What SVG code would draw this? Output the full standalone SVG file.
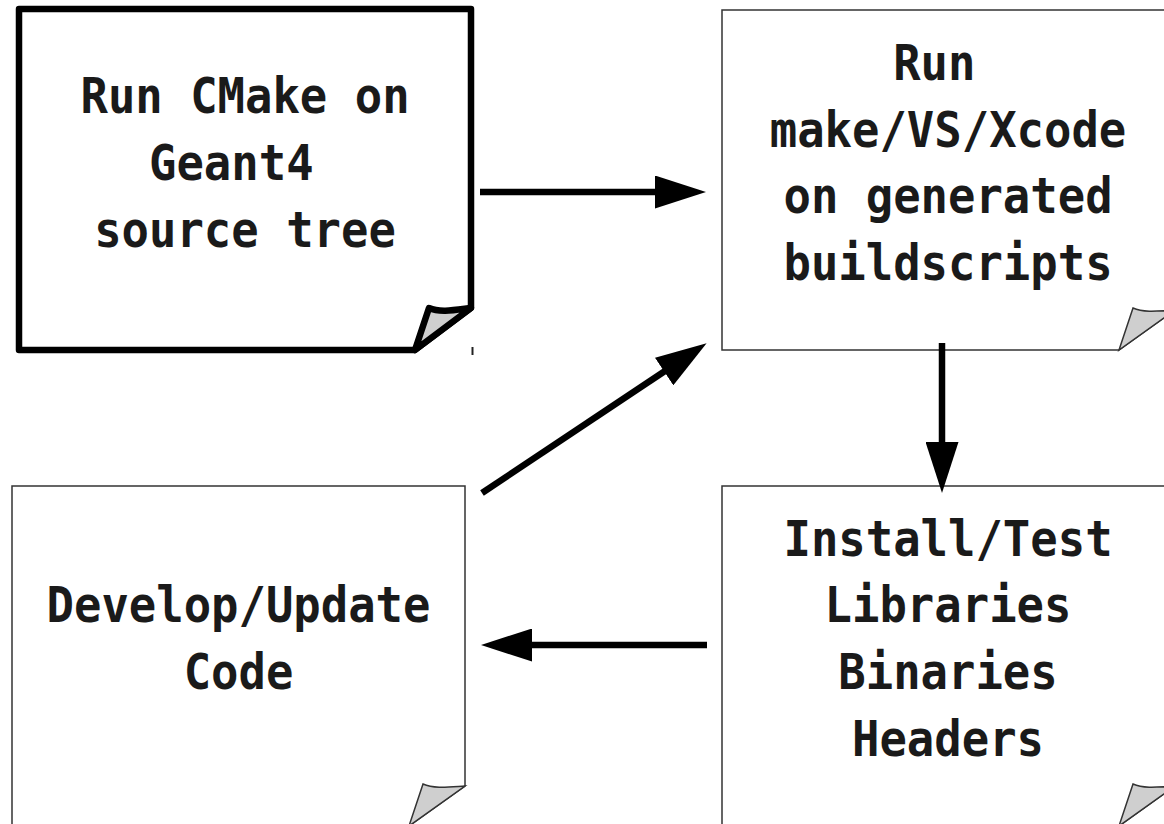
<svg xmlns="http://www.w3.org/2000/svg" width="1164" height="824" viewBox="0 0 1164 824">
<style>
.t{font-family:"DejaVu Sans Mono","Liberation Mono",monospace;font-weight:bold;font-size:49px;fill:#1a1a1a;text-anchor:middle}
.thin{fill:#fff;stroke:#333;stroke-width:1.5;stroke-linejoin:miter}
.thinflap{fill:#cfcfcf;stroke:#333;stroke-width:1.5;stroke-linejoin:miter}
.thick{fill:#fff;stroke:#000;stroke-width:6.5;stroke-linejoin:round}
.thickflap{fill:#cfcfcf;stroke:#000;stroke-width:6.5;stroke-linejoin:round}
.conn{fill:none;stroke:#000;stroke-width:6.5;stroke-linecap:butt}
</style>
<defs>
<marker id="ah" viewBox="0 0 51 33" refX="1" refY="16.5" markerWidth="51" markerHeight="33" markerUnits="userSpaceOnUse" orient="auto">
<path d="M0,0 L51,16.5 L0,33 Z" fill="#000"/>
</marker>
</defs>
<rect width="1164" height="824" fill="#fff"/>

<g id="node-cmake">
<path class="thick" d="M19,9 H471 V308 L415,350 H19 Z"/>
<path class="thickflap" d="M415,350 L429,308 C440,313 455,310 471,308 Z"/>
<line x1="472.5" y1="347" x2="472.5" y2="355" stroke="#222" stroke-width="2"/>
<text class="t" transform="matrix(0.93 0 0 1 245 0)" x="0" y="113">Run CMake on</text>
<text class="t" transform="matrix(0.93 0 0 1 245 0)" x="0" y="180" xml:space="preserve">Geant4 </text>
<text class="t" transform="matrix(0.93 0 0 1 245 0)" x="0" y="247">source tree</text>
</g>

<g id="node-make">
<path class="thin" d="M722,10 H1175 V310 L1119,350 H722 Z"/>
<path class="thinflap" d="M1119,350 L1133,308 C1144,313 1159,311 1175,310 Z"/>
<text class="t" transform="matrix(0.93 0 0 1 948 0)" x="0" y="80" xml:space="preserve">Run </text>
<text class="t" transform="matrix(0.93 0 0 1 948 0)" x="0" y="147">make/VS/Xcode</text>
<text class="t" transform="matrix(0.93 0 0 1 948 0)" x="0" y="213">on generated</text>
<text class="t" transform="matrix(0.93 0 0 1 948 0)" x="0" y="280">buildscripts</text>
</g>

<g id="node-develop">
<path class="thin" d="M12,486 H465 V786 L409,826 H12 Z"/>
<path class="thinflap" d="M409,826 L423,784 C434,789 449,787 465,786 Z"/>
<text class="t" transform="matrix(0.93 0 0 1 238.5 0)" x="0" y="622">Develop/Update</text>
<text class="t" transform="matrix(0.93 0 0 1 238.5 0)" x="0" y="689">Code</text>
</g>

<g id="node-install">
<path class="thin" d="M722,486 H1175 V786 L1119,826 H722 Z"/>
<path class="thinflap" d="M1119,826 L1133,784 C1144,789 1159,787 1175,786 Z"/>
<text class="t" transform="matrix(0.93 0 0 1 948 0)" x="0" y="556">Install/Test</text>
<text class="t" transform="matrix(0.93 0 0 1 948 0)" x="0" y="622">Libraries</text>
<text class="t" transform="matrix(0.93 0 0 1 948 0)" x="0" y="689">Binaries</text>
<text class="t" transform="matrix(0.93 0 0 1 948 0)" x="0" y="756">Headers</text>
</g>

<g id="connectors">
<path class="conn" d="M480,192 H656" marker-end="url(#ah)"/>
<path class="conn" d="M482,493 L665,371" marker-end="url(#ah)"/>
<path class="conn" d="M942,343 V443" marker-end="url(#ah)"/>
<path class="conn" d="M707,645 H531" marker-end="url(#ah)"/>
</g>
</svg>
